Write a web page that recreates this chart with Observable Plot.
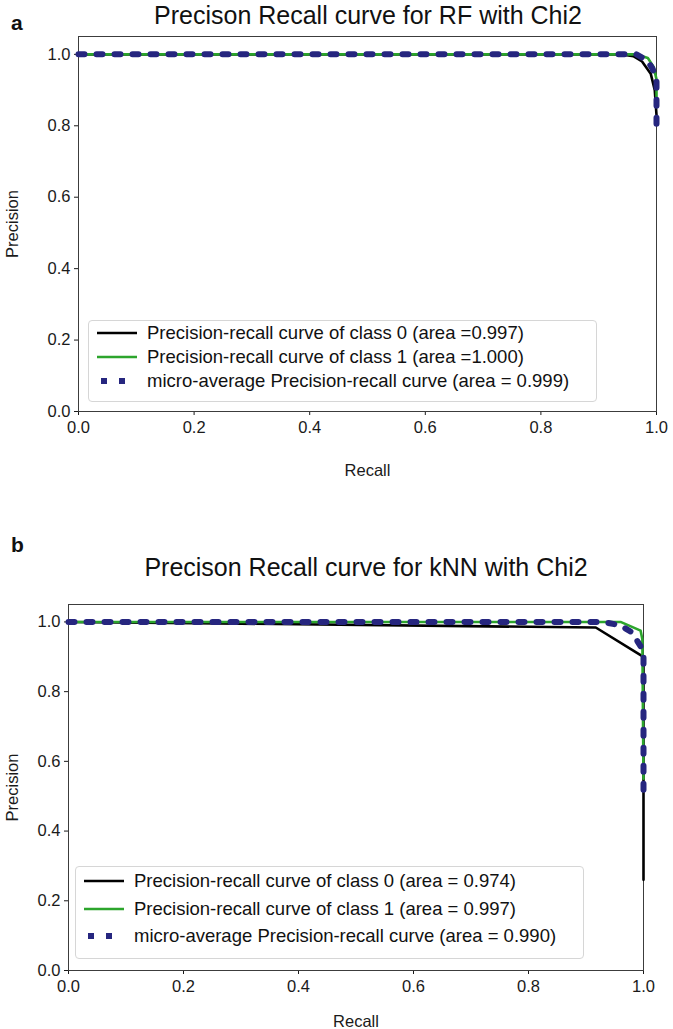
<!DOCTYPE html>
<html>
<head>
<meta charset="utf-8">
<script src="https://cdn.jsdelivr.net/npm/d3@7"></script>
<script src="https://cdn.jsdelivr.net/npm/@observablehq/plot@0.6"></script>
<style>
  html, body { margin: 0; padding: 0; background: #fff; }
  body { font-family: "Liberation Sans", Arial, Helvetica, sans-serif; color: #111; }
  #page { position: relative; width: 673px; height: 1029px; overflow: hidden; background: #fff; }
  .panel { position: absolute; left: 0; }
  .letter { position: absolute; font-weight: bold; font-size: 21px; line-height: 1; }
  .title { position: absolute; font-size: 25px; line-height: 1; white-space: nowrap; transform: translateX(-50%); color: #111; }
  .legend { position: absolute; border: 1px solid #d6d6d6; border-radius: 4px; background: rgba(255,255,255,0.85); box-sizing: border-box; }
  .legend .row { position: absolute; left: 0; height: 20px; white-space: nowrap; font-size: 18.5px; line-height: 20px; color: #111; }
  .legend svg { position: absolute; left: 8px; top: 5px; overflow: visible; }
  .legend span { position: absolute; left: 58px; top: 0; }
</style>
</head>
<body>
<div id="page"></div>
<script>
// ---------- shared ticks ----------
const xTicks = [0, 0.2, 0.4, 0.6, 0.8, 1.0];
const yTicks = [0, 0.2, 0.4, 0.6, 0.8, 1.0];

// ---------- panel a: RF with Chi2 ----------
const rfTitle = "Precison Recall curve for RF with Chi2";
const rfClass0Recall    = [0, 0.94, 0.96, 0.975, 0.99, 0.997, 1.0];
const rfClass0Precision = [1.0, 1.0, 0.995, 0.98, 0.946, 0.90, 0.83];
const rfClass1Recall    = [0, 0.965, 0.985, 0.995, 1.0, 1.0];
const rfClass1Precision = [1.0, 1.0, 0.99, 0.965, 0.93, 0.88];
const rfMicroRecall     = [0, 0.965, 0.984, 0.993, 1.0, 1.0];
const rfMicroPrecision  = [1.0, 1.0, 0.983, 0.96, 0.93, 0.805];
const rfLegend = [
  "Precision-recall curve of class 0 (area =0.997)",
  "Precision-recall curve of class 1 (area =1.000)",
  "micro-average Precision-recall curve (area = 0.999)"
];

// ---------- panel b: kNN with Chi2 ----------
const knnTitle = "Precison Recall curve for kNN with Chi2";
const knnClass0Recall    = [0, 0.3, 0.917, 0.99, 1.0, 1.0];
const knnClass0Precision = [1.0, 0.995, 0.984, 0.91, 0.90, 0.26];
const knnClass1Recall    = [0, 0.96, 0.995, 0.998, 1.0];
const knnClass1Precision = [1.0, 1.0, 0.975, 0.95, 0.55];
const knnMicroRecall     = [0, 0.93, 0.96, 0.98, 0.995, 1.0, 1.0];
const knnMicroPrecision  = [1.0, 1.0, 0.99, 0.97, 0.93, 0.90, 0.51];
const knnLegend = [
  "Precision-recall curve of class 0 (area = 0.974)",
  "Precision-recall curve of class 1 (area = 0.997)",
  "micro-average Precision-recall curve (area = 0.990)"
];

// ---------- styles ----------
const seriesStyles = [
  {stroke: "#000000", strokeWidth: 2.6, dash: null},
  {stroke: "#2ca52c", strokeWidth: 2.6, dash: null},
  {stroke: "#26267f", strokeWidth: 6, dash: "6,12"}
];

function toRows(recall, precision) {
  return recall.map((r, i) => ({recall: r, precision: precision[i]}));
}

function makePlot(series, opt) {
  const marks = [Plot.frame({stroke: "#3c3c3c", strokeWidth: 1})];
  series.forEach((s, i) => {
    const st = seriesStyles[i];
    marks.push(Plot.line(toRows(s[0], s[1]), {
      x: "recall", y: "precision",
      stroke: st.stroke, strokeWidth: st.strokeWidth,
      strokeDasharray: st.dash || undefined,
      strokeLinejoin: "round"
    }));
  });
  return Plot.plot({
    width: 673,
    height: opt.height,
    marginLeft: opt.ml, marginRight: opt.mr, marginTop: opt.mt, marginBottom: opt.mb,
    style: {fontFamily: '"Liberation Sans", Arial, Helvetica, sans-serif', fontSize: "16.5px", color: "#1a1a1a", background: "transparent", overflow: "visible"},
    x: {domain: [0, 1], ticks: xTicks, tickFormat: d3.format(".1f"), tickSize: 4, tickPadding: 6,
        label: "Recall", labelAnchor: "center", labelOffset: opt.xlo, labelArrow: "none"},
    y: {domain: [0, 1.05], ticks: yTicks, tickFormat: d3.format(".1f"), tickSize: 4, tickPadding: 4,
        label: "Precision", labelAnchor: "center", labelOffset: opt.ylo, labelArrow: "none"},
    marks
  });
}

function addLegend(page, labels, box) {
  const lg = document.createElement("div");
  lg.className = "legend";
  Object.assign(lg.style, {left: box.left + "px", top: box.top + "px", width: box.width + "px", height: box.height + "px"});
  labels.forEach((lab, i) => {
    const st = seriesStyles[i];
    const row = document.createElement("div");
    row.className = "row";
    row.style.top = (box.rowTop + i * box.rowGap - 10) + "px";
    row.style.width = box.width + "px";
    const svg = d3.create("svg").attr("width", 40).attr("height", 10);
    const dotted = !!st.dash;
    svg.append("line").attr("x1", dotted ? 4 : 0).attr("x2", dotted ? 30 : 40).attr("y1", 5).attr("y2", 5)
      .attr("stroke", st.stroke).attr("stroke-width", dotted ? 6 : st.strokeWidth)
      .attr("stroke-dasharray", dotted ? st.dash : null);
    row.appendChild(svg.node());
    const sp = document.createElement("span");
    sp.textContent = lab;
    row.appendChild(sp);
    lg.appendChild(row);
  });
  page.appendChild(lg);
}

function addText(page, cls, txt, left, top) {
  const d = document.createElement("div");
  d.className = cls;
  d.textContent = txt;
  d.style.left = left + "px";
  d.style.top = top + "px";
  page.appendChild(d);
}

const page = document.getElementById("page");

// panel a
const pa = document.createElement("div");
pa.className = "panel"; pa.style.top = "0px";
pa.appendChild(makePlot(
  [[rfClass0Recall, rfClass0Precision], [rfClass1Recall, rfClass1Precision], [rfMicroRecall, rfMicroPrecision]],
  {height: 480, ml: 78, mr: 17, mt: 36, mb: 69, xlo: 64, ylo: 72}
));
page.appendChild(pa);
addText(page, "letter", "a", 11, 12);
addText(page, "title", rfTitle, 368, 3);
addLegend(page, rfLegend, {left: 88, top: 320, width: 509, height: 82, rowTop: 12, rowGap: 24});

// panel b
const pb = document.createElement("div");
pb.className = "panel"; pb.style.top = "568px";
pb.appendChild(makePlot(
  [[knnClass0Recall, knnClass0Precision], [knnClass1Recall, knnClass1Precision], [knnMicroRecall, knnMicroPrecision]],
  {height: 461, ml: 68, mr: 30, mt: 36, mb: 59, xlo: 56, ylo: 62}
));
page.appendChild(pb);
addText(page, "letter", "b", 11, 534);
addText(page, "title", knnTitle, 366, 555);
addLegend(page, knnLegend, {left: 75, top: 866, width: 509, height: 93, rowTop: 14, rowGap: 27.5});
</script>
</body>
</html>
